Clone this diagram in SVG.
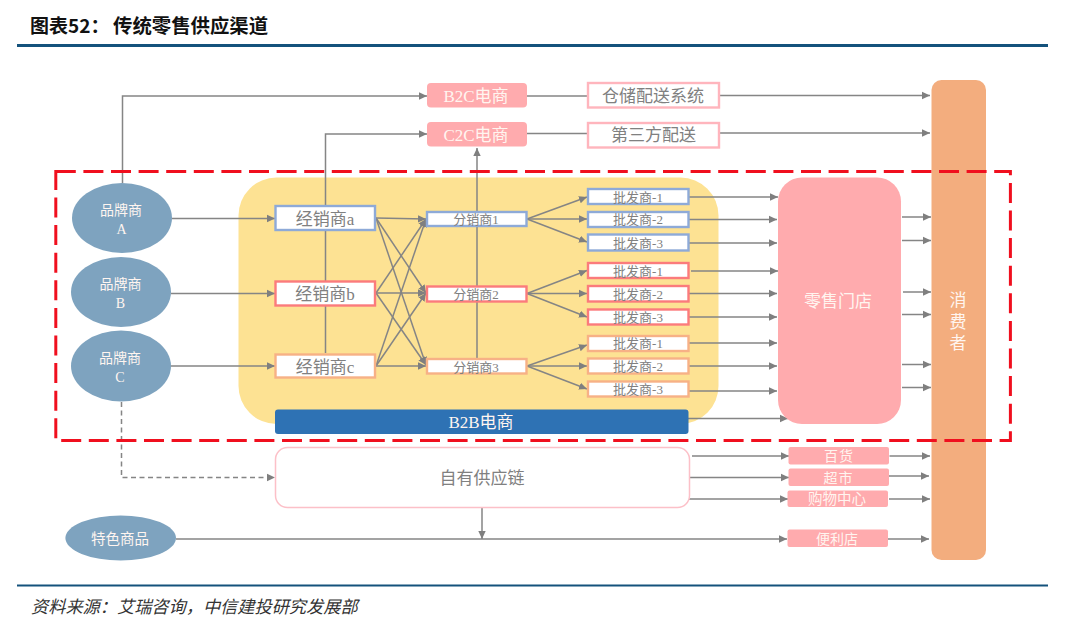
<svg xmlns="http://www.w3.org/2000/svg" width="1080" height="627" viewBox="0 0 1080 627">
<style>
text{font-family:"Liberation Serif","Noto Sans CJK SC",serif;text-anchor:middle}
.t{fill:#808080}.w{fill:#fff5f0}
.s13{font-size:13px}.s14{font-size:14px}.s15{font-size:14.5px}.s17{font-size:17px}
.el{fill:#7ea3bf}.pk{fill:#ffabae}
.bx{fill:#fff;stroke-width:2.4}.bl{stroke:#8eaad8}.rd{stroke:#fb7b7c}.og{stroke:#f7b186}.pl{stroke:#ffb5bd}
#connectors path{fill:none;stroke:#858585;stroke-width:1.5}
.ar{marker-end:url(#a)}
</style>
<defs>
<marker id="a" markerUnits="userSpaceOnUse" markerWidth="9" markerHeight="9" refX="8" refY="4.500" orient="auto"><path d="M0 .8L8 4.500L0 8.200z" fill="#7f7f7f"/></marker>
</defs>
<rect width="1080" height="627" fill="#fff"/>
<text x="30" y="33" style="font-family:'Noto Sans CJK SC',sans-serif;font-size:19px;font-weight:700;text-anchor:start;fill:#111">图表52：</text>
<text x="113" y="33" style="font-family:'Noto Sans CJK SC',sans-serif;font-size:19.4px;font-weight:700;text-anchor:start;fill:#111">传统零售供应渠道</text>
<path d="M17 45.500H1048" stroke="#14527c" stroke-width="3"/>
<path d="M17 585.500H1048" stroke="#14527c" stroke-width="1.800"/>
<text x="31" y="613" style="font-family:'Noto Sans CJK SC',sans-serif;font-size:17.200px;font-style:italic;text-anchor:start;fill:#333">资料来源：艾瑞咨询，中信建投研究发展部</text>
<rect id="b2b-zone" x="238.500" y="177.500" width="480" height="246.500" rx="38" fill="#fde293"/>
<g id="connectors">
<path class="ar" d="M122.500 183V96H427"/>
<path class="ar" d="M325.500 353V134H427"/>
<path class="ar" d="M477 358V148"/>
<path d="M527 96H587M527 133.500H587"/>
<path class="ar" d="M719.500 95.500H930"/>
<path class="ar" d="M719.500 133H930"/>
<path class="ar" d="M172 218.500H275"/>
<path class="ar" d="M171 293.500H275"/>
<path class="ar" d="M171 366H275"/>
<path class="ar" d="M376 218L426 219"/><path class="ar" d="M376 218L426 293"/><path class="ar" d="M376 218L426 365"/>
<path class="ar" d="M376 293L426 219"/><path class="ar" d="M376 293H426"/><path class="ar" d="M376 293L426 365"/>
<path class="ar" d="M376 366L426 219"/><path class="ar" d="M376 366L426 293"/><path class="ar" d="M376 366H426"/>
<path class="ar" d="M527 219L587 197"/><path class="ar" d="M527 219H587"/><path class="ar" d="M527 219L587 242"/>
<path class="ar" d="M527 293.500L587 270.500"/><path class="ar" d="M527 293.500H587"/><path class="ar" d="M527 293.500L587 317"/>
<path class="ar" d="M527 366L587 345"/><path class="ar" d="M527 366H587"/><path class="ar" d="M527 366L587 389"/>
<path class="ar" d="M689 197H778"/><path class="ar" d="M689 219.500H777"/><path class="ar" d="M689 243H777"/>
<path class="ar" d="M691 271H778"/><path class="ar" d="M689 293.500H777"/><path class="ar" d="M689 317H777"/>
<path class="ar" d="M689 343H777"/><path class="ar" d="M689 366H777"/><path class="ar" d="M689 391H777"/>
<path class="ar" d="M688 418.500H788"/>
<path class="ar" d="M902 217H931"/><path class="ar" d="M902 240.500H931"/><path class="ar" d="M903 292H931"/>
<path class="ar" d="M902 314.500H931"/><path class="ar" d="M902 364.500H931"/><path class="ar" d="M902 387.500H931"/>
<path class="ar" d="M692 456H789"/><path class="ar" d="M690 477.500H789"/><path class="ar" d="M689 499H788"/>
<path class="ar" d="M889.500 456H930"/><path class="ar" d="M888 476H929"/><path class="ar" d="M889 499H930"/><path class="ar" d="M888 539H929"/>
<path class="ar" d="M176 539H787"/>
<path class="ar" d="M482 508V539"/>
<path class="ar" d="M121.500 402V477.500H275" stroke-dasharray="5 3.500"/>
</g>
<g id="b2c"><rect class="pk" x="427" y="83" width="100" height="24.500" rx="4"/><text class="w s17" x="476" y="101.500">B2C电商</text></g>
<g id="c2c"><rect class="pk" x="427" y="122" width="100" height="24.500" rx="4"/><text class="w s17" x="476" y="140.500">C2C电商</text></g>
<g id="warehouse"><rect class="bx pl" x="588" y="83" width="131" height="24.500"/><text class="t s17" x="653" y="101.500">仓储配送系统</text></g>
<g id="third-party"><rect class="bx pl" x="588" y="123" width="131" height="24.500"/><text class="t s17" x="653.500" y="141">第三方配送</text></g>
<g id="consumer"><rect x="931.500" y="80" width="54.500" height="480" rx="10" fill="#f3ad7e"/><text class="w s17" x="958" y="306">消</text><text class="w s17" x="958" y="328">费</text><text class="w s17" x="958" y="349">者</text></g>
<g id="retail"><rect class="pk" x="778" y="177.500" width="123" height="246.500" rx="24"/><text class="w s17" x="838" y="307">零售门店</text></g>
<g id="brand-a"><ellipse class="el" cx="122" cy="218" rx="50" ry="35"/><text class="w s14" x="121" y="215">品牌商</text><text class="w s14" x="121.500" y="234">A</text></g>
<g id="brand-b"><ellipse class="el" cx="121" cy="292" rx="50" ry="35"/><text class="w s14" x="120.500" y="289">品牌商</text><text class="w s14" x="120.500" y="308">B</text></g>
<g id="brand-c"><ellipse class="el" cx="121" cy="366" rx="50" ry="35.500"/><text class="w s14" x="120" y="363">品牌商</text><text class="w s14" x="120" y="382">C</text></g>
<g id="special"><ellipse class="el" cx="120.700" cy="538" rx="55.300" ry="22.500"/><text class="w s15" x="120" y="544">特色商品</text></g>
<g id="dealer-a"><rect class="bx bl" x="275.500" y="206" width="99.500" height="24"/><text class="t s17" x="325" y="225">经销商a</text></g>
<g id="dealer-b"><rect class="bx rd" x="275.500" y="281.500" width="99.500" height="24"/><text class="t s17" x="325" y="299.500">经销商b</text></g>
<g id="dealer-c"><rect class="bx og" x="275.500" y="354.500" width="99.500" height="23"/><text class="t s17" x="325" y="373">经销商c</text></g>
<g id="sub-1"><rect class="bx bl" x="427" y="212" width="99.500" height="14"/><text class="t s13" x="476" y="224">分销商1</text></g>
<g id="sub-2"><rect class="bx rd" x="427" y="286.500" width="99.500" height="15"/><text class="t s13" x="476" y="299">分销商2</text></g>
<g id="sub-3"><rect class="bx og" x="427" y="359" width="99.500" height="14.500"/><text class="t s13" x="476" y="372">分销商3</text></g>
<g id="w-b1"><rect class="bx bl" x="588" y="189" width="100.500" height="15"/><text class="t s13" x="638" y="201.500">批发商-1</text></g>
<g id="w-b2"><rect class="bx bl" x="588" y="212" width="100.500" height="15"/><text class="t s13" x="638" y="224">批发商-2</text></g>
<g id="w-b3"><rect class="bx bl" x="588" y="234.500" width="100.500" height="16"/><text class="t s13" x="638" y="248">批发商-3</text></g>
<g id="w-r1"><rect class="bx rd" x="588" y="263" width="100.500" height="15"/><text class="t s13" x="638" y="275.500">批发商-1</text></g>
<g id="w-r2"><rect class="bx rd" x="588" y="286" width="100.500" height="15.500"/><text class="t s13" x="638" y="298.500">批发商-2</text></g>
<g id="w-r3"><rect class="bx rd" x="588" y="309.500" width="100.500" height="15"/><text class="t s13" x="638" y="322">批发商-3</text></g>
<g id="w-o1"><rect class="bx og" x="588" y="336" width="100.500" height="15"/><text class="t s13" x="638" y="348">批发商-1</text></g>
<g id="w-o2"><rect class="bx og" x="588" y="358.500" width="100.500" height="15"/><text class="t s13" x="638" y="371">批发商-2</text></g>
<g id="w-o3"><rect class="bx og" x="588" y="381.500" width="100.500" height="15"/><text class="t s13" x="638" y="394">批发商-3</text></g>
<g id="b2b"><rect x="275" y="409.500" width="413.500" height="24.500" rx="3" fill="#2e72b4"/><text class="w s17" x="481" y="428">B2B电商</text></g>
<g id="own-chain"><rect x="275.500" y="447.500" width="414" height="60" rx="12" fill="#fff" stroke="#fcc0c8" stroke-width="1.500"/><text class="t s17" x="482" y="484">自有供应链</text></g>
<g id="dept"><rect class="pk" x="788.500" y="447" width="100.500" height="17.500" rx="2"/><text class="w s14" x="839" y="461" letter-spacing="1">百货</text></g>
<g id="super"><rect class="pk" x="788.500" y="468.500" width="100.500" height="17.500" rx="2"/><text class="w s14" x="838.500" y="482.500" letter-spacing="1">超市</text></g>
<g id="mall"><rect class="pk" x="787.500" y="490.500" width="100.500" height="16.500" rx="2"/><text class="w s15" x="837" y="504">购物中心</text></g>
<g id="conv"><rect class="pk" x="787.500" y="529.500" width="100.500" height="17.500" rx="2"/><text class="w s14" x="837" y="543.500">便利店</text></g>
<rect id="dashed-frame" x="55.800" y="171.500" width="954.600" height="269" fill="none" stroke="#f00f1e" stroke-width="3" stroke-dasharray="20 7.600"/>
</svg>
